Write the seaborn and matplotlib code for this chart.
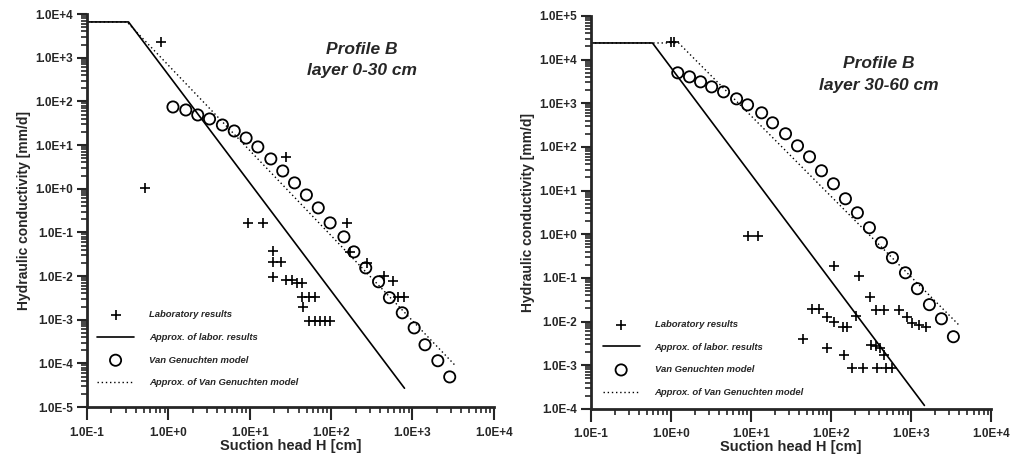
import numpy as np
import seaborn as sns
import matplotlib.pyplot as plt
from matplotlib.ticker import LogLocator, FuncFormatter, NullFormatter

# ---- Profile B, layer 0-30 cm ----
lab_h_1 = [0.51, 0.81, 9.6, 14.5, 27.7, 157, 19.2, 19.2, 24.1, 19.2, 27.7, 33.6, 38.7, 44.5,
           44.6, 54.2, 64.2, 45.8, 54, 64, 74, 85, 97.5,
           171, 275, 442, 585, 673, 795]
lab_k_1 = [1.04, 2300, 0.165, 0.165, 5.35, 0.165, 0.0378, 0.0211, 0.0211, 0.0096, 0.0082, 0.0082,
           0.0070, 0.0070, 0.0033, 0.0033, 0.0033, 0.0020, 9.4e-4, 9.4e-4, 9.4e-4, 9.4e-4, 9.4e-4,
           0.036, 0.020, 0.0101, 0.0077, 0.0033, 0.0033]
vg_h_1 = [1.14, 1.64, 2.30, 3.21, 4.62, 6.46, 9.04, 12.6, 18.2, 25.5, 35.6, 49.8, 69.7, 97.5,
          144, 191, 267, 384, 522, 751, 1052, 1430, 2055, 2877]
vg_k_1 = [74.5, 63.6, 48.9, 39.6, 28.8, 21.0, 14.5, 9.05, 4.81, 2.55, 1.36, 0.72, 0.364, 0.165,
          0.079, 0.0358, 0.0154, 0.0074, 0.0032, 0.00144, 6.5e-4, 2.67e-4, 1.15e-4, 4.9e-5]
fit_lab_h_1 = [0.1, 0.324, 800]
fit_lab_k_1 = [6600, 6600, 2.7e-5]
fit_vg_h_1 = [0.1, 0.31, 3300]
fit_vg_k_1 = [6600, 6600, 9.3e-5]

# ---- Profile B, layer 30-60 cm ----
lab_h_2 = [1.0, 1.1, 9.1, 12.1, 110, 220, 310, 368, 463, 713, 898, 1035, 1265, 1548,
           58.6, 71.6, 90, 110, 139, 156, 207, 44, 90, 143, 319, 368, 402, 463,
           185, 247, 379, 491, 583]
lab_k_2 = [2.5e4, 2.5e4, 0.93, 0.93, 0.19, 0.112, 0.037, 0.0187, 0.0187, 0.018, 0.013, 0.0094,
           0.0085, 0.0076, 0.0197, 0.0197, 0.013, 0.0099, 0.0076, 0.0076, 0.0136, 0.0039,
           0.0025, 0.00175, 0.00296, 0.0028, 0.0025, 0.00175, 8.8e-4, 8.8e-4, 8.8e-4, 8.8e-4, 8.8e-4]
vg_h_2 = [1.22, 1.71, 2.35, 3.23, 4.55, 6.61, 9.07, 13.6, 18.6, 27.0, 38.1, 53.8, 75.9, 107,
          151, 213, 301, 425, 583, 847, 1195, 1687, 2382, 3360]
vg_k_2 = [4970, 4020, 3090, 2370, 1824, 1261, 919, 603, 356, 200, 106, 59.3, 28.4, 14.3,
          6.49, 3.10, 1.41, 0.638, 0.290, 0.131, 0.0566, 0.0244, 0.0116, 0.0045]
fit_lab_h_2 = [0.1, 0.59, 1462]
fit_lab_k_2 = [2.4e4, 2.4e4, 1.2e-4]
fit_vg_h_2 = [0.1, 1.25, 4000]
fit_vg_k_2 = [2.4e4, 2.4e4, 0.0081]

sns.set_style("ticks")
plt.rcParams['font.family'] = ['Liberation Sans', 'DejaVu Sans']
plt.rcParams['font.weight'] = 'bold'

fig = plt.figure(figsize=(10.22, 4.61), dpi=100)
ax1 = fig.add_axes([0.0851, 0.117, 0.398, 0.8525])
ax2 = fig.add_axes([0.578, 0.113, 0.392, 0.8525])


def sci(v, pos):
    e = int(round(np.log10(v)))
    return f"1.0E{e:+d}"


def draw(ax, lab_h, lab_k, vg_h, vg_k, flh, flk, fvh, fvk, ylim, title, title_xy, leg_anchor):
    sns.scatterplot(x=lab_h, y=lab_k, marker='+', color='black', s=50, linewidth=1.2,
                    label='Laboratory results', ax=ax, zorder=3)
    sns.lineplot(x=flh, y=flk, color='black', linewidth=1.2, sort=False,
                 label='Approx. of labor. results', ax=ax)
    sns.scatterplot(x=vg_h, y=vg_k, marker='o', facecolor='none', edgecolor='black', s=65,
                    linewidth=1.3, label='Van Genuchten model', ax=ax, zorder=3)
    sns.lineplot(x=fvh, y=fvk, color='black', linewidth=1.0, linestyle=(0, (1, 2)), sort=False,
                 label='Approx. of Van Genuchten model', ax=ax)
    ax.set_xscale('log')
    ax.set_yscale('log')
    ax.set_xlim(0.1, 1e4)
    ax.set_ylim(*ylim)
    for a in (ax.xaxis, ax.yaxis):
        a.set_major_locator(LogLocator(base=10, numticks=100))
        a.set_minor_locator(LogLocator(base=10, subs=np.arange(2, 10), numticks=100))
        a.set_major_formatter(FuncFormatter(sci))
        a.set_minor_formatter(NullFormatter())
    ax.tick_params(axis='both', which='major', direction='out', width=1.5, labelsize=8.5)
    ax.tick_params(axis='x', which='major', length=9, pad=5)
    ax.tick_params(axis='y', which='major', length=7, pad=3)
    ax.tick_params(axis='both', which='minor', direction='out', width=1.2, length=4)
    for lab in ax.get_xticklabels() + ax.get_yticklabels():
        lab.set_fontweight('bold')
    sns.despine(ax=ax)
    for s in ('left', 'bottom'):
        ax.spines[s].set_linewidth(2)
    ax.set_xlabel('Suction head H [cm]', fontsize=10.5, fontweight='bold', labelpad=0)
    ax.set_ylabel('Hydraulic conductivity [mm/d]', fontsize=10, fontweight='bold', labelpad=3)
    ax.text(title_xy[0], title_xy[1], title, transform=ax.transAxes, ha='center', va='top',
            fontsize=12.5, fontweight='bold', style='italic', linespacing=1.55)
    leg = ax.legend(loc='lower left', bbox_to_anchor=leg_anchor, frameon=False,
                    borderpad=0, borderaxespad=0, handlelength=3.9, handletextpad=1.6,
                    labelspacing=1.45, prop={'size': 6.8, 'weight': 'bold', 'style': 'italic'})
    return leg


draw(ax1, lab_h_1, lab_k_1, vg_h_1, vg_k_1, fit_lab_h_1, fit_lab_k_1, fit_vg_h_1, fit_vg_k_1,
     (1e-5, 1e4), 'Profile B\nlayer 0-30 cm', (0.676, 0.93), (0.025, 0.05))
draw(ax2, lab_h_2, lab_k_2, vg_h_2, vg_k_2, fit_lab_h_2, fit_lab_k_2, fit_vg_h_2, fit_vg_k_2,
     (1e-4, 1e5), 'Profile B\nlayer 30-60 cm', (0.72, 0.898), (0.03, 0.03))

fig.savefig('out.png', dpi=100)
